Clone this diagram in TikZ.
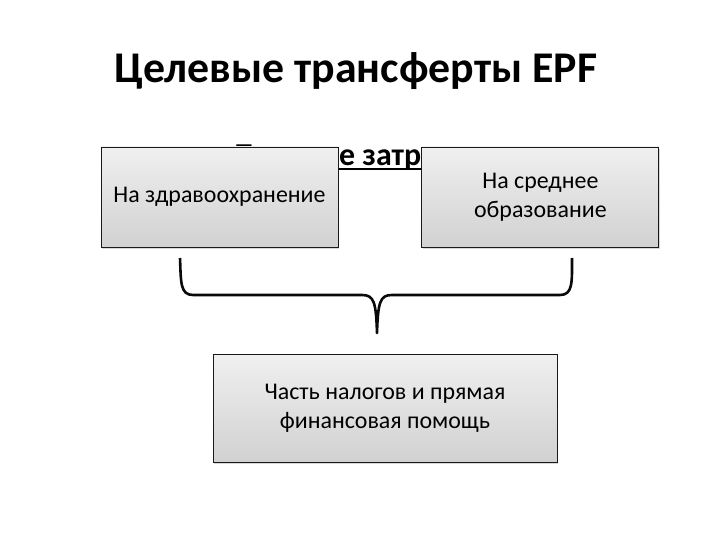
\documentclass[tikz,border=0pt]{standalone}
\usepackage{fontspec}
\setmainfont{Carlito}
\usetikzlibrary{positioning, shadows}
\definecolor{boxedge}{RGB}{25,25,25}
\definecolor{bracecol}{RGB}{10,10,10}

\begin{document}
\begin{tikzpicture}[x=1bp, y=-1bp, node distance=83bp,
  every node/.style={font=\fontsize{24}{29}\selectfont},
  greybox/.style={draw=boxedge, line width=0.9bp, top color=gray!12, bottom color=gray!36,
    minimum width=237bp, minimum height=100bp, align=center, inner sep=0pt,
    drop shadow={shadow xshift=1bp, shadow yshift=-2bp, fill=black!30, opacity=0.5}}]
\fill[white] (0,0) rectangle (720,540);
\useasboundingbox (0,0) rectangle (720,540);
% titles
\node[anchor=base, font=\fontsize{44}{50}\selectfont\bfseries] (title) at (356,83) {Целевые трансферты EPF};
\node[anchor=base west, inner sep=0pt, font=\fontsize{32}{38}\selectfont\bfseries] (sub) at (236,166) {Текущие затраты};
\draw[line width=2bp] ([yshift=-3bp]sub.base west) -- ([yshift=-3bp]sub.base east);
% boxes
\node[greybox] (health) at (219.5,197) {На здравоохранение};
\node[greybox, right=of health] (school) {На среднее\\образование};
\node[greybox, minimum width=344bp, minimum height=108bp] (funds) at (385,408) {Часть налогов и прямая\\финансовая помощь};
% brace
\coordinate (bl) at (180,258);
\coordinate (br) at (572,258);
\coordinate (tip) at (377,333);
\draw[bracecol, line width=2.6bp, line join=round] (bl) .. controls (181,282) and (180,295) .. (193,295) -- (362,295)
  .. controls (374,295) and (376,302) .. (tip) .. controls (378,302) and (380,295) .. (392,295) -- (560,295)
  .. controls (573,295) and (572,282) .. (br);
\end{tikzpicture}
\end{document}
